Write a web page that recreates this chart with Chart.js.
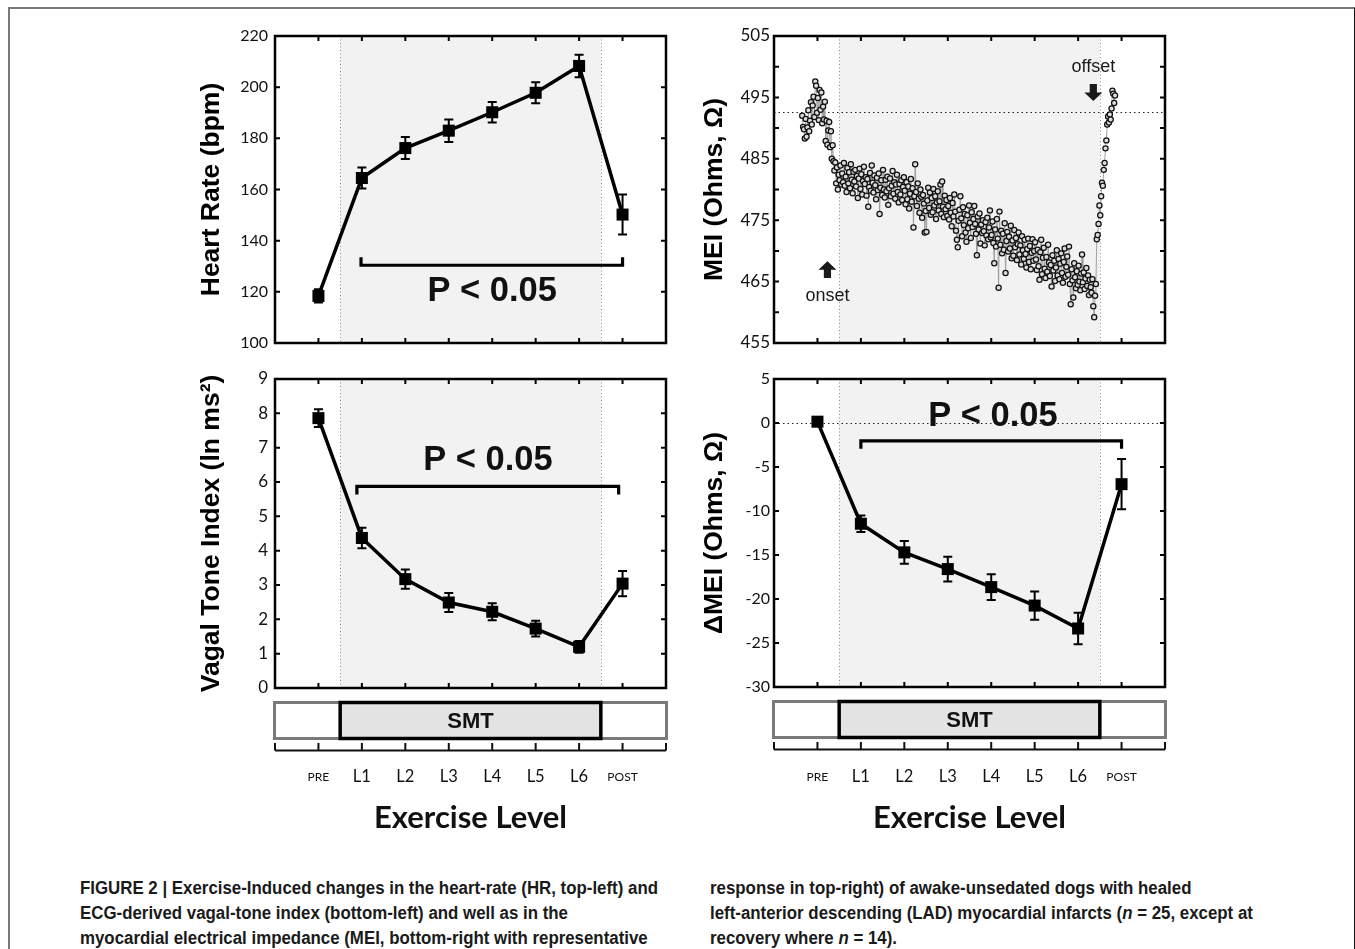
<!DOCTYPE html>
<html><head><meta charset="utf-8">
<script src="https://cdn.jsdelivr.net/npm/chart.js@4.4.1/dist/chart.umd.min.js"></script>
<style>
html,body{margin:0;padding:0;background:#fff;}
body{width:1355px;height:949px;position:relative;overflow:hidden;}
#frame{position:absolute;left:8px;top:7px;width:1347px;height:1000px;border-left:2px solid #787878;border-top:2px solid #787878;border-right:1px solid #111;box-sizing:border-box;}
canvas{position:absolute;}
.cap{position:absolute;font-family:"Liberation Sans Narrow","Liberation Sans",sans-serif;font-weight:bold;font-size:18px;line-height:20px;white-space:nowrap;color:#1a1a1a;transform-origin:left center;}
</style></head>
<body>
<div id="frame"></div>
<canvas id="c1" width="540" height="370" style="left:150px;top:0px"></canvas>
<canvas id="c2" width="510" height="370" style="left:690px;top:0px"></canvas>
<canvas id="c3" width="540" height="490" style="left:150px;top:360px"></canvas>
<canvas id="c4" width="510" height="490" style="left:690px;top:360px"></canvas>
<div class="cap" style="left:80px;top:878px">FIGURE 2 | Exercise-Induced changes in the heart-rate (HR, top-left) and</div>
<div class="cap" style="left:80px;top:903px">ECG-derived vagal-tone index (bottom-left) and well as in the</div>
<div class="cap" style="left:80px;top:928px">myocardial electrical impedance (MEI, bottom-right with representative</div>
<div class="cap" style="left:710px;top:878px">response in top-right) of awake-unsedated dogs with healed</div>
<div class="cap" style="left:710px;top:903px">left-anterior descending (LAD) myocardial infarcts (<i>n</i> = 25, except at</div>
<div class="cap" style="left:710px;top:928px">recovery where <i>n</i> = 14).</div>
<script>
// ---------------- data ----------------
const categories = ['PRE','L1','L2','L3','L4','L5','L6','POST'];

const hrMean = [118.4, 164.5, 176.2, 183.0, 190.2, 197.8, 208.3, 150.2];
const hrErr  = [2.6, 4.1, 4.3, 4.4, 4.0, 4.1, 4.4, 7.8];
const hrTicks = [100, 120, 140, 160, 180, 200, 220];

const vtiMean = [7.86, 4.37, 3.17, 2.49, 2.22, 1.73, 1.20, 3.04];
const vtiErr  = [0.26, 0.30, 0.28, 0.28, 0.25, 0.23, 0.17, 0.37];
const vtiTicks = [0, 1, 2, 3, 4, 5, 6, 7, 8, 9];

const dmeiMean = [0.15, -11.45, -14.7, -16.6, -18.65, -20.75, -23.35, -6.95];
const dmeiErr  = [0.5, 0.95, 1.3, 1.4, 1.45, 1.6, 1.8, 2.85];
const dmeiTicks = [-30, -25, -20, -15, -10, -5, 0, 5];

const meiTicks = [455, 460, 465, 470, 475, 480, 485, 490, 495, 500, 505];
const meiTickLabels = ['455', '', '465', '', '475', '', '485', '', '495', '', '505'];
const meiBaseline = 492.6;
// representative MEI trace: samples every 0.02 exercise-level units starting at -0.35
const meiStart = -0.35, meiStep = 0.02;
const meiTrace = [
 492.0,490.2,489.8,488.3,491.5,488.6,490.1,492.9,489.5,491.2,
 494.2,490.6,493.7,495.1,491.8,497.6,496.9,492.5,494.9,491.3,
 496.2,493.0,495.8,490.8,493.5,491.4,494.3,487.9,491.2,487.3,
 489.6,491.0,486.9,489.5,485.0,487.2,484.6,483.1,484.4,481.0,
 483.6,480.0,482.4,
 481.5,483.9,480.8,482.6,481.2,484.3,480.6,482.1,479.6,483.5,
 481.0,482.8,480.2,484.1,481.6,479.4,482.9,481.3,483.2,480.5,
 482.2,478.6,481.8,483.4,480.1,482.5,479.2,481.4,483.7,480.9,
 482.0,479.0,481.7,477.2,480.4,482.7,479.8,483.9,481.1,479.5,
 482.3,480.7,478.4,481.9,479.9,482.6,476.0,480.3,481.5,479.1,
 483.2,480.0,478.7,481.6,479.7,482.1,477.5,480.2,481.8,478.9,
 480.6,483.0,479.3,481.2,478.5,480.8,482.4,479.6,477.9,480.9,
 479.2,481.5,478.3,480.4,482.0,
 479.8,477.6,481.2,478.4,480.5,476.9,479.3,481.7,478.0,480.2,
 473.8,478.9,484.1,479.6,477.3,481.0,478.5,476.2,480.0,478.8,
 475.4,479.1,477.7,473.0,476.5,473.1,478.2,480.3,477.0,479.5,
 475.9,478.6,476.3,480.1,477.4,478.9,475.2,477.9,479.7,476.6,
 478.1,480.8,476.0,481.3,477.2,475.5,479.0,476.8,478.3,475.7,
 477.3,475.1,478.6,476.2,474.0,477.8,475.6,479.2,476.4,473.3,
 471.8,470.6,474.9,476.7,478.9,475.3,472.4,477.1,474.2,476.0,
 473.0,471.5,475.8,473.7,477.4,474.6,472.1,476.3,473.9,475.2,
 477.3,474.4,472.8,469.3,475.6,473.5,476.1,471.2,474.3,472.9,
 475.0,473.2,470.9,474.7,472.5,475.4,471.9,473.8,476.6,472.2,
 472.6,474.8,471.3,468.0,473.5,470.7,475.2,472.0,464.0,476.4,
 471.0,473.3,469.6,472.8,470.2,474.5,466.4,471.6,473.1,469.9,
 472.3,470.4,474.1,468.8,471.7,469.2,473.4,470.6,472.1,468.5,
 471.1,473.0,469.4,470.9,467.8,472.4,470.1,468.7,471.8,469.5,
 467.3,470.3,472.0,468.2,470.8,467.0,469.7,471.9,468.4,470.0,
 471.4,468.6,466.9,470.2,467.5,465.3,469.8,471.8,466.2,468.9,
 470.5,467.1,465.6,469.0,466.6,471.0,468.1,465.9,467.7,464.2,
 469.3,466.8,468.4,465.1,467.3,470.1,466.0,468.7,465.4,467.9,
 469.6,466.4,464.8,468.2,470.4,465.8,467.4,469.1,466.1,470.7,
 464.6,461.3,467.0,465.2,462.4,468.0,465.7,463.9,466.7,464.5,
 467.6,465.0,463.6,466.3,469.4,464.9,466.5,463.8,465.5,467.2,
 464.3,466.0,462.8,465.3,464.1,
 463.2,465.4,461.0,459.2,462.7,464.6,471.9,472.6,474.4,477.4,
 475.8,478.9,481.1,480.6,483.2,484.3,486.7,488.0,490.6,491.9,
 490.9,492.2,491.4,493.2,496.1,495.6,494.1,495.3
];
const meiArrows = [
  {label: 'onset',  x: 0.23, tip: 468.3, tail: 465.6, textY: 462.6},
  {label: 'offset', x: 6.35, tip: 494.4, tail: 497.2, textY: 499.9}
];
// ---------------------------------------

Chart.defaults.color = '#111';

function blockArrow(ctx, cx, tipY, tailY) {
  const dir = Math.sign(tailY - tipY);
  const headH = 8.5, headW = 9, stemW = 3.6;
  const hb = tipY + dir * headH;
  ctx.beginPath();
  ctx.moveTo(cx, tipY);
  ctx.lineTo(cx + headW, hb); ctx.lineTo(cx + stemW, hb); ctx.lineTo(cx + stemW, tailY);
  ctx.lineTo(cx - stemW, tailY); ctx.lineTo(cx - stemW, hb); ctx.lineTo(cx - headW, hb);
  ctx.closePath(); ctx.fill();
}

const decor = {
  id: 'decor',
  beforeDatasetsDraw(chart, args, o) {
    const {ctx, chartArea: a} = chart; const x = chart.scales.x, y = chart.scales.y;
    ctx.save();
    if (o.shade) {
      const s0 = x.getPixelForValue(o.shade[0]), s1 = x.getPixelForValue(o.shade[1]);
      ctx.fillStyle = '#f2f2f2';
      ctx.fillRect(s0, a.top, s1 - s0, a.bottom - a.top);
      ctx.strokeStyle = '#8a8a8a'; ctx.lineWidth = 1; ctx.setLineDash([1, 2.5]);
      [s0, s1].forEach(s => { const xx = Math.round(s) + 0.5; ctx.beginPath(); ctx.moveTo(xx, a.top); ctx.lineTo(xx, a.bottom); ctx.stroke(); });
    }
    if (o.hline != null) {
      const yy = Math.round(y.getPixelForValue(o.hline)) + 0.5;
      ctx.strokeStyle = '#222'; ctx.lineWidth = 1.2; ctx.setLineDash([1.5, 3]);
      ctx.beginPath(); ctx.moveTo(a.left, yy); ctx.lineTo(a.right, yy); ctx.stroke();
    }
    ctx.setLineDash([]);
    if (o.err) {
      ctx.strokeStyle = '#000'; ctx.lineWidth = 2;
      o.err.mean.forEach((m, i) => {
        const e = o.err.sd[i]; const cx = x.getPixelForValue(i);
        const t = y.getPixelForValue(m + e), b = y.getPixelForValue(m - e);
        ctx.beginPath(); ctx.moveTo(cx, t); ctx.lineTo(cx, b);
        ctx.moveTo(cx - 4.5, t); ctx.lineTo(cx + 4.5, t);
        ctx.moveTo(cx - 4.5, b); ctx.lineTo(cx + 4.5, b); ctx.stroke();
      });
    }
    ctx.restore();
  },
  afterDatasetsDraw(chart, args, o) {
    const {ctx, chartArea: a} = chart; const x = chart.scales.x, y = chart.scales.y;
    ctx.save();
    // frame
    ctx.strokeStyle = '#000'; ctx.lineWidth = 2.5;
    ctx.strokeRect(a.left, a.top, a.right - a.left, a.bottom - a.top);
    ctx.lineWidth = 2;
    ctx.beginPath();
    y.ticks.forEach(t => {
      const py = y.getPixelForValue(t.value);
      if (py < a.top + 2 || py > a.bottom - 2) return;
      ctx.moveTo(a.left, py); ctx.lineTo(a.left + 5, py);
      ctx.moveTo(a.right, py); ctx.lineTo(a.right - 5, py);
    });
    categories.forEach((c, i) => {
      const cx = x.getPixelForValue(i);
      ctx.moveTo(cx, a.top); ctx.lineTo(cx, a.top + 5);
      ctx.moveTo(cx, a.bottom); ctx.lineTo(cx, a.bottom - 5);
    });
    ctx.stroke();
    // bracket
    if (o.bracket) {
      const b = o.bracket;
      const x0 = x.getPixelForValue(b.x0), x1 = x.getPixelForValue(b.x1), yy = y.getPixelForValue(b.y);
      ctx.lineWidth = 3.2; ctx.lineJoin = 'miter'; ctx.lineCap = 'butt';
      ctx.beginPath();
      ctx.moveTo(x0, yy + b.dir * 8); ctx.lineTo(x0, yy); ctx.lineTo(x1, yy); ctx.lineTo(x1, yy + b.dir * 8);
      ctx.stroke();
    }
    if (o.pText) {
      ctx.fillStyle = '#111';
      ctx.font = 'bold 34.5px "Liberation Sans", Arial, sans-serif';
      ctx.textAlign = 'center'; ctx.textBaseline = 'middle';
      ctx.fillText('P < 0.05', x.getPixelForValue(o.pText.x), y.getPixelForValue(o.pText.y));
    }
    if (o.arrows) {
      ctx.fillStyle = '#1a1a1a';
      ctx.font = '18px "Liberation Sans", Arial, sans-serif';
      ctx.textAlign = 'center'; ctx.textBaseline = 'middle';
      o.arrows.forEach(ar => {
        const cx = x.getPixelForValue(ar.x);
        blockArrow(ctx, cx, y.getPixelForValue(ar.tip), y.getPixelForValue(ar.tail));
        ctx.fillText(ar.label, cx, y.getPixelForValue(ar.textY));
      });
    }
    ctx.restore();
  },
  afterDraw(chart, args, o) {
    if (!o.lower) return;
    const {ctx, chartArea: a} = chart; const x = chart.scales.x;
    ctx.save();
    const bt = a.bottom + 14.5, bb = a.bottom + 50.5;
    // outer grey box
    ctx.strokeStyle = '#7a7a7a'; ctx.lineWidth = 3;
    ctx.strokeRect(a.left - 0.5, bt, a.right - a.left + 1, bb - bt);
    // SMT box
    const s0 = x.getPixelForValue(0.5), s1 = x.getPixelForValue(6.5);
    ctx.fillStyle = '#e3e3e3'; ctx.fillRect(s0, bt, s1 - s0, bb - bt);
    ctx.strokeStyle = '#000'; ctx.lineWidth = 3.5;
    ctx.strokeRect(s0, bt, s1 - s0, bb - bt);
    ctx.fillStyle = '#111';
    ctx.font = 'bold 22px "Liberation Sans", Arial, sans-serif';
    ctx.textAlign = 'center'; ctx.textBaseline = 'middle';
    ctx.fillText('SMT', (s0 + s1) / 2, (bt + bb) / 2 + 1);
    // lower axis line with upward ticks
    const ly = a.bottom + 62.5;
    ctx.strokeStyle = '#111'; ctx.lineWidth = 2;
    ctx.beginPath();
    ctx.moveTo(a.left, ly); ctx.lineTo(a.right, ly);
    for (let v = -1; v <= categories.length; v++) {
      const cx = x.getPixelForValue(v);
      ctx.moveTo(cx, ly); ctx.lineTo(cx, ly - 7.5);
    }
    ctx.stroke();
    ctx.restore();
  }
};
Chart.register(decor);

function yAxis(opts) {
  return {
    type: 'linear', min: opts.min, max: opts.max, position: 'left',
    afterBuildTicks: s => { s.ticks = opts.ticks.map(v => ({value: v})); },
    afterFit: s => { s.width = opts.width; s.paddingTop = 0; s.paddingBottom = 0; },
    grid: {display: false, drawTicks: false}, border: {display: false},
    ticks: {autoSkip: false, padding: opts.pad, color: '#111',
      font: {family: 'Lato', size: opts.fs},
      callback: (v, i) => opts.labels ? opts.labels[i] : String(v)},
    title: {display: true, text: opts.title, color: '#000',
      font: {family: '"Liberation Sans", Arial, sans-serif', weight: 'bold', size: 26.5},
      padding: {top: opts.tpad, bottom: 0}}
  };
}
function xHidden() { return {type: 'linear', min: -1, max: 8, display: false}; }
function xLower(h, pad) {
  return {
    type: 'linear', min: -1, max: 8, position: 'bottom',
    afterBuildTicks: s => { s.ticks = categories.map((c, i) => ({value: i})); },
    afterFit: s => { s.height = h; s.paddingLeft = 0; s.paddingRight = 0; },
    grid: {display: false, drawTicks: false}, border: {display: false},
    ticks: {autoSkip: false, maxRotation: 0, minRotation: 0, padding: pad, color: '#111',
      callback: v => categories[v],
      font: c => {
        const lab = c.tick ? categories[c.tick.value] : 'L1';
        const small = (lab === 'PRE' || lab === 'POST');
        return {family: 'Lato', size: small ? 12 : 16.5, lineHeight: small ? 1.65 : 1.2};
      }},
    title: {display: true, text: 'Exercise Level', color: '#111',
      font: {family: 'Lato', weight: 'bold', size: 31}, padding: {top: 0, bottom: 13}}
  };
}
function meanSet(mean) {
  return {data: mean.map((v, i) => ({x: i, y: v})), borderColor: '#000', borderWidth: 3.5,
    pointStyle: 'rect', pointRadius: 8.5, pointBackgroundColor: '#000', pointBorderWidth: 0,
    tension: 0, clip: false};
}
const common = {responsive: false, animation: false, events: [], devicePixelRatio: 1};

new Chart(document.getElementById('c1'), {
  type: 'line',
  data: {datasets: [meanSet(hrMean)]},
  options: {...common,
    layout: {padding: {left: 0, top: 36, right: 24, bottom: 27}},
    plugins: {legend: {display: false}, tooltip: {enabled: false},
      decor: {shade: [0.5, 6.5], err: {mean: hrMean, sd: hrErr},
        bracket: {x0: 0.98, x1: 7.0, y: 130.4, dir: -1}, pText: {x: 4.0, y: 120.0}}},
    scales: {x: xHidden(),
      y: yAxis({min: 100, max: 220, ticks: hrTicks, width: 125, pad: 7, fs: 16, title: 'Heart Rate (bpm)', tpad: 46})}
  }
});

new Chart(document.getElementById('c2'), {
  type: 'line',
  data: {datasets: [{
    data: meiTrace.map((v, i) => ({x: meiStart + i * meiStep, y: v})),
    borderColor: '#9a9a9a', borderWidth: 0.9, tension: 0,
    pointStyle: 'circle', pointRadius: 2.6, pointBorderWidth: 1.25,
    pointBorderColor: '#101010', pointBackgroundColor: '#dcdcdc'}]},
  options: {...common,
    layout: {padding: {left: 0, top: 36, right: 35, bottom: 27}},
    plugins: {legend: {display: false}, tooltip: {enabled: false},
      decor: {shade: [0.5, 6.5], hline: meiBaseline, arrows: meiArrows}},
    scales: {x: xHidden(),
      y: yAxis({min: 455, max: 505, ticks: meiTicks, labels: meiTickLabels, width: 84, pad: 4, fs: 17, title: 'MEI (Ohms, Ω)', tpad: 9})}
  }
});

new Chart(document.getElementById('c3'), {
  type: 'line',
  data: {datasets: [meanSet(vtiMean)]},
  options: {...common,
    layout: {padding: {left: 0, top: 19, right: 24, bottom: 0}},
    plugins: {legend: {display: false}, tooltip: {enabled: false},
      decor: {shade: [0.5, 6.5], err: {mean: vtiMean, sd: vtiErr},
        bracket: {x0: 0.885, x1: 6.91, y: 5.87, dir: 1}, pText: {x: 3.9, y: 6.62}, lower: true}},
    scales: {x: xLower(162, 79),
      y: yAxis({min: 0, max: 9, ticks: vtiTicks, width: 125, pad: 7, fs: 17, title: 'Vagal Tone Index (ln ms²)', tpad: 46})}
  }
});

new Chart(document.getElementById('c4'), {
  type: 'line',
  data: {datasets: [meanSet(dmeiMean)]},
  options: {...common,
    layout: {padding: {left: 0, top: 19, right: 35, bottom: 0}},
    plugins: {legend: {display: false}, tooltip: {enabled: false},
      decor: {shade: [0.5, 6.5], hline: 0, err: {mean: dmeiMean, sd: dmeiErr},
        bracket: {x0: 1.0, x1: 7.0, y: -2.02, dir: 1}, pText: {x: 4.04, y: 0.72}, lower: true}},
    scales: {x: xLower(163, 80),
      y: yAxis({min: -30, max: 5, ticks: dmeiTicks, width: 84, pad: 4, fs: 16, title: 'ΔMEI (Ohms, Ω)', tpad: 9})}
  }
});

// fit caption lines to the reference line length
const caps = document.querySelectorAll('.cap');
const w0 = caps[0].getBoundingClientRect().width;
const f = 578 / w0;
caps.forEach(c => { c.style.transform = 'scaleX(' + f + ')'; });
</script>
</body></html>
